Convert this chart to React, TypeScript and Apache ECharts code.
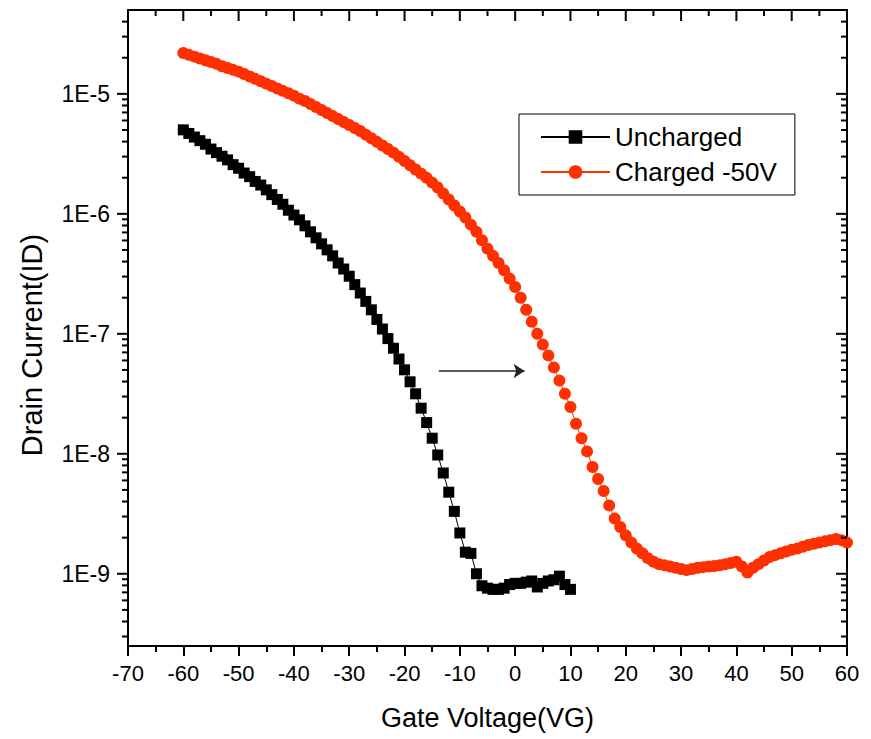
import { useEffect, useRef } from 'react';
import * as echarts from 'echarts';

// Gate voltage (V) sweep for each curve
const gateVoltageUncharged = [
  -60, -59, -58, -57, -56, -55, -54, -53, -52, -51,
  -50, -49, -48, -47, -46, -45, -44, -43, -42, -41,
  -40, -39, -38, -37, -36, -35, -34, -33, -32, -31,
  -30, -29, -28, -27, -26, -25, -24, -23, -22, -21,
  -20, -19, -18, -17, -16, -15, -14, -13, -12, -11,
  -10, -9, -8, -7, -6, -5, -4, -3, -2, -1,
  0, 1, 2, 3, 4, 5, 6, 7, 8, 9, 10,
];
// log10 of drain current (A)
const log10DrainUncharged = [
  -5.30, -5.33, -5.36, -5.39, -5.42, -5.46, -5.49, -5.52, -5.55, -5.59,
  -5.62, -5.66, -5.69, -5.73, -5.76, -5.80, -5.84, -5.88, -5.92, -5.97,
  -6.01, -6.05, -6.10, -6.15, -6.20, -6.25, -6.30, -6.35, -6.41, -6.46,
  -6.52, -6.59, -6.66, -6.73, -6.80, -6.88, -6.96, -7.04, -7.12, -7.21,
  -7.30, -7.40, -7.50, -7.62, -7.74, -7.87, -8.01, -8.16, -8.32, -8.48,
  -8.66, -8.82, -8.83, -9.00, -9.10, -9.12, -9.13, -9.13, -9.12, -9.09,
  -9.08, -9.08, -9.07, -9.06, -9.11, -9.08, -9.06, -9.05, -9.02, -9.09, -9.13,
];

const gateVoltageCharged = [
  -60, -59, -58, -57, -56, -55, -54, -53, -52, -51,
  -50, -49, -48, -47, -46, -45, -44, -43, -42, -41,
  -40, -39, -38, -37, -36, -35, -34, -33, -32, -31,
  -30, -29, -28, -27, -26, -25, -24, -23, -22, -21,
  -20, -19, -18, -17, -16, -15, -14, -13, -12, -11,
  -10, -9, -8, -7, -6, -5, -4, -3, -2, -1,
  0, 1, 2, 3, 4, 5, 6, 7, 8, 9,
  10, 11, 12, 13, 14, 15, 16, 17, 18, 19,
  20, 21, 22, 23, 24, 25, 26, 27, 28, 29,
  30, 31, 32, 33, 34, 35, 36, 37, 38, 39,
  40, 41, 42, 43, 44, 45, 46, 47, 48, 49,
  50, 51, 52, 53, 54, 55, 56, 57, 58, 59, 60,
];
const log10DrainCharged = [
  -4.66, -4.675, -4.69, -4.705, -4.72, -4.735, -4.75, -4.77, -4.785, -4.80,
  -4.815, -4.835, -4.855, -4.875, -4.895, -4.915, -4.935, -4.955, -4.975, -4.995,
  -5.015, -5.04, -5.06, -5.085, -5.11, -5.135, -5.16, -5.185, -5.21, -5.235,
  -5.26, -5.285, -5.31, -5.34, -5.37, -5.40, -5.43, -5.46, -5.49, -5.525,
  -5.56, -5.595, -5.63, -5.665, -5.70, -5.74, -5.78, -5.83, -5.88, -5.93,
  -5.98, -6.03, -6.09, -6.15, -6.22, -6.29, -6.35, -6.41, -6.47, -6.54,
  -6.61, -6.70, -6.80, -6.90, -7.00, -7.09, -7.18, -7.28, -7.39, -7.50,
  -7.61, -7.75, -7.87, -7.98, -8.11, -8.21, -8.31, -8.43, -8.54, -8.61,
  -8.68, -8.74, -8.79, -8.83, -8.87, -8.90, -8.92, -8.93, -8.94, -8.95,
  -8.96, -8.97, -8.96, -8.95, -8.945, -8.94, -8.935, -8.93, -8.92, -8.91,
  -8.90, -8.94, -8.99, -8.95, -8.92, -8.89, -8.86, -8.845, -8.83, -8.815,
  -8.80, -8.79, -8.775, -8.76, -8.75, -8.74, -8.73, -8.72, -8.71, -8.72, -8.74,
];

const seriesNames = ['Uncharged', 'Charged -50V'];

// Axis ranges and ticks
const xMin = -70;
const xMax = 60;
const xInterval = 10;
const xTopMajorTicks = [-60, -50, -40, -30, -20, -10, 0, 10, 20, 30, 40, 50];
const xTopMinorTicks = [-65, -55, -45, -35, -25, -15, -5, 5, 15, 25, 35, 45, 55];
const yMin = 2.5e-10;
const yMax = 5e-5;
const yMajorTicks = [1e-9, 1e-8, 1e-7, 1e-6, 1e-5];
const yMinorTicks = [
  3e-10, 4e-10, 5e-10, 6e-10, 7e-10, 8e-10, 9e-10,
  2e-9, 3e-9, 4e-9, 5e-9, 6e-9, 7e-9, 8e-9, 9e-9,
  2e-8, 3e-8, 4e-8, 5e-8, 6e-8, 7e-8, 8e-8, 9e-8,
  2e-7, 3e-7, 4e-7, 5e-7, 6e-7, 7e-7, 8e-7, 9e-7,
  2e-6, 3e-6, 4e-6, 5e-6, 6e-6, 7e-6, 8e-6, 9e-6,
  2e-5, 3e-5, 4e-5,
];

// Arrow annotation (gate voltage, drain current)
const arrowStart = [-13.8, 4.9e-8];
const arrowEnd = [1.7, 4.9e-8];

const FONT = '"Liberation Sans", Arial, sans-serif';
const RED = '#ff3000';
const TICK_W = 2;

// Tick marks as markPoints (rect symbols) positioned by the axes' scales
function tickPoints(coords: number[][], size: number[], offset: number[]) {
  return coords.map((c) => ({
    coord: c,
    symbol: 'rect',
    symbolSize: size,
    symbolOffset: offset,
    itemStyle: { color: '#000' },
  }));
}

export default function App() {
  const ref = useRef<HTMLDivElement>(null);

  useEffect(() => {
    if (!ref.current) return;
    const chart = echarts.init(ref.current, undefined, { renderer: 'svg' });

    const unchargedData = gateVoltageUncharged.map((v, i) => [v, Math.pow(10, log10DrainUncharged[i])]);
    const chargedData = gateVoltageCharged.map((v, i) => [v, Math.pow(10, log10DrainCharged[i])]);

    const ticks = [
      ...tickPoints(yMajorTicks.map((t) => [xMin, t]), [11, TICK_W], [-5.5, 0]),
      ...tickPoints(yMinorTicks.map((t) => [xMin, t]), [6, TICK_W], [-3, 0]),
      ...tickPoints(yMajorTicks.map((t) => [xMax, t]), [11, TICK_W], [-5.5, 0]),
      ...tickPoints(yMinorTicks.map((t) => [xMax, t]), [6, TICK_W], [-3, 0]),
      ...tickPoints(xTopMajorTicks.map((v) => [v, yMax]), [TICK_W, 11], [0, 5.5]),
      ...tickPoints(xTopMinorTicks.map((v) => [v, yMax]), [TICK_W, 6], [0, 3]),
    ];

    const axisLine = { show: true, onZero: false, lineStyle: { color: '#000', width: 2 } };

    chart.setOption({
      animation: false,
      grid: { left: 128, right: 24, top: 10, bottom: 93, containLabel: false },
      legend: {
        data: seriesNames,
        orient: 'vertical',
        left: 519,
        top: 114,
        itemWidth: 69,
        itemHeight: 17,
        itemGap: 9,
        padding: [10, 18, 10, 21],
        borderColor: '#000',
        borderWidth: 1,
        selectedMode: false,
        textStyle: { fontSize: 26, fontFamily: FONT, color: '#000', lineHeight: 26 },
      },
      xAxis: [
        {
          type: 'value',
          position: 'bottom',
          min: xMin,
          max: xMax,
          interval: xInterval,
          name: 'Gate Voltage(VG)',
          nameLocation: 'middle',
          nameGap: 58,
          nameTextStyle: { fontSize: 27, fontFamily: FONT, color: '#000' },
          axisLine,
          axisTick: { show: true, length: 10, lineStyle: { color: '#000', width: TICK_W } },
          minorTick: { show: true, splitNumber: 2, length: 6, lineStyle: { color: '#000', width: TICK_W } },
          axisLabel: { fontSize: 22, fontFamily: FONT, color: '#000', margin: 16 },
          splitLine: { show: false },
        },
        {
          type: 'value',
          position: 'top',
          min: xMin,
          max: xMax,
          interval: xInterval,
          axisLine,
          axisTick: { show: false },
          axisLabel: { show: false },
          splitLine: { show: false },
        },
      ],
      yAxis: [
        {
          type: 'log',
          logBase: 10,
          position: 'left',
          min: yMin,
          max: yMax,
          axisLine,
          axisTick: { show: false },
          axisLabel: {
            fontSize: 23,
            fontFamily: FONT,
            color: '#000',
            margin: 18,
            formatter: (val: number) => {
              const e = Math.log10(val);
              const r = Math.round(e);
              return Math.abs(e - r) < 1e-6 ? '1E' + r : '';
            },
          },
          splitLine: { show: false },
        },
        {
          type: 'log',
          logBase: 10,
          position: 'right',
          min: yMin,
          max: yMax,
          axisLine,
          axisTick: { show: false },
          axisLabel: { show: false },
          splitLine: { show: false },
        },
      ],
      graphic: [
        {
          type: 'text',
          x: 32,
          y: 345,
          rotation: Math.PI / 2,
          style: {
            text: 'Drain Current(ID)',
            font: `29px ${FONT}`,
            fill: '#000',
            align: 'center',
            verticalAlign: 'middle',
          },
        },
      ],
      series: [
        {
          name: seriesNames[0],
          type: 'line',
          data: unchargedData,
          symbol: 'rect',
          symbolSize: 11,
          showAllSymbol: true,
          itemStyle: { color: '#000' },
          lineStyle: { color: '#000', width: 1 },
          markLine: {
            silent: true,
            symbol: ['none', 'arrow'],
            symbolSize: 11,
            label: { show: false },
            lineStyle: { color: '#222', width: 1.5, type: 'solid' },
            data: [[{ coord: arrowStart }, { coord: arrowEnd }]],
          },
          markPoint: {
            silent: true,
            label: { show: false },
            data: ticks,
          },
        },
        {
          name: seriesNames[1],
          type: 'line',
          data: chargedData,
          symbol: 'circle',
          symbolSize: 12,
          showAllSymbol: true,
          itemStyle: { color: RED },
          lineStyle: { color: RED, width: 1 },
        },
      ],
    });

    return () => chart.dispose();
  }, []);

  return (
    <div
      ref={ref}
      style={{ position: 'fixed', left: 0, top: 0, width: 871, height: 739, background: '#fff' }}
    />
  );
}
